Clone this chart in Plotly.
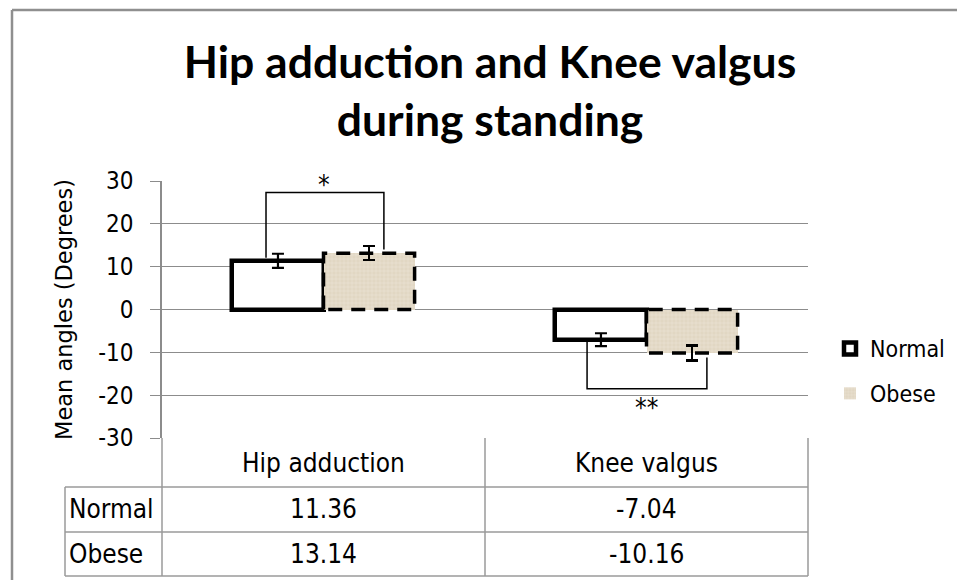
import plotly.graph_objects as go

# ---- data ----
categories = ["Hip adduction", "Knee valgus"]
series_names = ["Normal", "Obese"]
normal_vals = [11.36, -7.04]
obese_vals = [13.14, -10.16]
normal_err = [1.65, 1.5]
obese_err = [1.65, 1.75]
y_ticks = [-30, -20, -10, 0, 10, 20, 30]
y_tick_labels = ["-30", "-20", "-10", "0", "10", "20", "30"]
sig_labels = ["*", "**"]
# significance brackets (category offsets / y levels)
br_left_off = [-0.178, -0.184]
br_right_off = [0.187, 0.187]
br_left_end = [12.1, -7.0]
br_right_end = [14.0, -11.2]
br_level = [27.3, -18.5]
sig_label_y = [29.0, -22.9]

OFF = 8  # page body margin
W, H = 965 - OFF, 580 - OFF
L, R, T, B = 162, 808, 181, 438  # reference-pixel plot box
def px(x):
    return (x - L) / (R - L)
def py(y):
    return (B - y) / (B - T)

FONT = "DejaVu Sans Condensed, DejaVu Sans, sans-serif"
BW = 0.282
xs = list(range(len(categories)))

fig = go.Figure()
fig.add_trace(go.Bar(
    x=xs, y=normal_vals, name=series_names[0], width=BW, offset=-BW,
    marker=dict(color="white", line=dict(color="black", width=4.5)),
    error_y=dict(type="data", array=normal_err, color="black", thickness=2.2, width=6),
    legendgroup="n",
))
fig.add_trace(go.Bar(
    x=xs, y=obese_vals, name=series_names[1], width=BW, offset=0,
    marker=dict(color="#e7dfcf", line=dict(color="black", width=0),
                pattern=dict(shape="+", size=4, solidity=0.25,
                             fgcolor="#f4efe6", bgcolor="#e1d7c3")),
    error_y=dict(type="data", array=obese_err, color="black", thickness=2.2, width=6),
    legendgroup="o",
))

# dashed outline of Obese bars
ox, oy = [], []
for i, v in zip(xs, obese_vals):
    ox += [i, i, i + BW, i + BW, i, None]
    oy += [0, v, v, 0, 0, None]
fig.add_trace(go.Scatter(x=ox, y=oy, mode="lines", showlegend=False, hoverinfo="skip",
                         line=dict(color="black", width=3.5, dash="14px,9px")))

# significance brackets
bx, by = [], []
for i in xs:
    bx += [i + br_left_off[i], i + br_left_off[i], i + br_right_off[i], i + br_right_off[i], None]
    by += [br_left_end[i], br_level[i], br_level[i], br_right_end[i], None]
fig.add_trace(go.Scatter(x=bx, y=by, mode="lines", showlegend=False, hoverinfo="skip",
                         line=dict(color="black", width=1.5)))

annotations = []
for i in xs:
    annotations.append(dict(x=i, y=sig_label_y[i], xref="x", yref="y", text=sig_labels[i],
                            showarrow=False, font=dict(family=FONT, size=26, color="black")))

# y-axis title
annotations.append(dict(x=px(64), y=py(310), xref="paper", yref="paper",
                        text="Mean angles (Degrees)", textangle=-90, showarrow=False,
                        xanchor="center", yanchor="middle",
                        font=dict(family="DejaVu Sans, sans-serif", size=22.5, color="black")))

# data table text
tfont = dict(family=FONT, size=26, color="black")
for i, c in enumerate(categories):
    annotations.append(dict(x=i, y=py(463), xref="x", yref="paper", text=c, showarrow=False,
                            xanchor="center", yanchor="middle", font=tfont))
    annotations.append(dict(x=i, y=py(509), xref="x", yref="paper", text=f"{normal_vals[i]:.2f}",
                            showarrow=False, xanchor="center", yanchor="middle", font=tfont))
    annotations.append(dict(x=i, y=py(554), xref="x", yref="paper", text=f"{obese_vals[i]:.2f}",
                            showarrow=False, xanchor="center", yanchor="middle", font=tfont))
for name, yy in zip(series_names, [509, 554]):
    annotations.append(dict(x=px(67), y=py(yy), xref="paper", yref="paper", text=name,
                            showarrow=False, xanchor="left", yanchor="middle", font=tfont))

gray = "#9a9a9a"
shapes = []
def line(x0, y0, x1, y1, color=gray, w=1.5):
    shapes.append(dict(type="line", xref="paper", yref="paper", x0=px(x0), y0=py(y0),
                       x1=px(x1), y1=py(y1), line=dict(color=color, width=w)))
for yy in [487, 532, 576]:
    line(65, yy, 808, yy)
line(65, 487, 65, 576)
line(162, 438, 162, 576)
line(485, 438, 485, 576)
line(808, 438, 808, 576)
# outer chart border
line(12, 10, 980, 10, "#8f8f8f", 2.5)
line(12, 10, 12, 600, "#8f8f8f", 2.5)

fig.update_layout(
    width=W, height=H,
    margin=dict(l=L - OFF, r=W - (R - OFF), t=T - OFF, b=H - (B - OFF)),
    paper_bgcolor="white", plot_bgcolor="white",
    title=dict(text="<b>Hip adduction and Knee valgus<br>during standing</b>",
               x=(490 - OFF) / W, xanchor="center", y=1 - (78 - OFF) / H, yanchor="middle",
               font=dict(family="Lato, sans-serif", size=44.5, color="black")),
    xaxis=dict(range=[-0.5, 1.5], showticklabels=False, showgrid=False, zeroline=False,
               ticks="", fixedrange=True),
    yaxis=dict(range=[-30, 30], tickvals=y_ticks, ticktext=y_tick_labels,
               showgrid=True, gridcolor="#8c8c8c",
               gridwidth=1, zeroline=False, showline=True, linecolor="#8c8c8c", linewidth=1.5,
               ticks="outside", ticklen=10, tickcolor="#8c8c8c", ticklabelstandoff=12,
               tickfont=dict(family=FONT, size=24, color="black")),
    legend=dict(x=px(830), xanchor="left", y=py(327), yanchor="top",
                font=dict(family=FONT, size=23, color="black"),
                tracegroupgap=12, itemwidth=30, bgcolor="rgba(0,0,0,0)"),
    showlegend=True,
    annotations=annotations,
    shapes=shapes,
    bargap=0,
)

fig.write_html("out.html")
